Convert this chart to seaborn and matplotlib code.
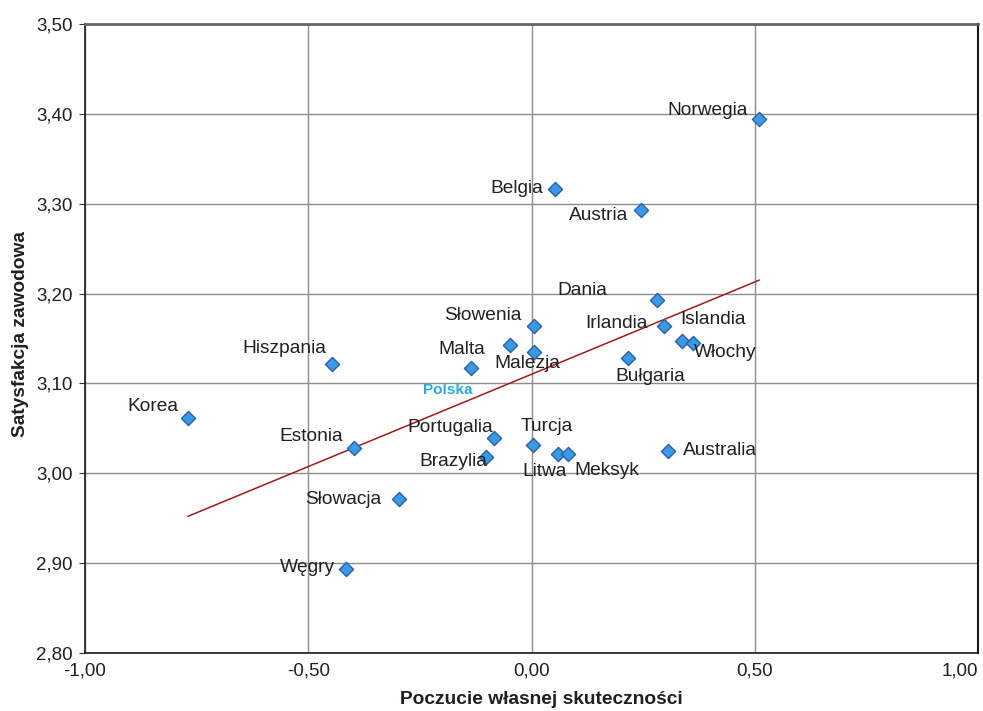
import numpy as np
import pandas as pd
import seaborn as sns
from matplotlib import pyplot as plt
from matplotlib.ticker import FuncFormatter, MultipleLocator

# values
countries = ["Norwegia", "Belgia", "Austria", "Dania", "Słowenia", "Irlandia", "Islandia", "Włochy",
             "", "Malezja", "Malta", "Bułgaria", "Hiszpania", "Korea", "Estonia", "Portugalia",
             "Turcja", "Brazylia", "Litwa", "Meksyk", "Australia", "Słowacja", "Węgry"]
efficacy = [0.510, 0.053, 0.245, 0.281, 0.006, 0.297, 0.337, 0.362,
            -0.048, 0.006, -0.135, 0.216, -0.447, -0.769, -0.398, -0.084,
            0.003, -0.102, 0.059, 0.082, 0.306, -0.297, -0.416]
satisfaction = [3.394, 3.316, 3.293, 3.193, 3.164, 3.164, 3.147, 3.145,
                3.143, 3.135, 3.117, 3.128, 3.122, 3.062, 3.028, 3.039,
                3.032, 3.018, 3.021, 3.021, 3.025, 2.971, 2.894]

trend_x = [-0.77, 0.51]
trend_y = [2.952, 3.215]

poland_label = "Polska"
poland_x, poland_y = -0.187, 3.093

x_ticks = [-1.0, -0.5, 0.0, 0.5, 1.0]

# label offsets in pixels (layout only)
label_offsets = {
    "Norwegia": (-52, 9), "Belgia": (-38, 1), "Austria": (-42, -5), "Dania": (-75, 9),
    "Słowenia": (-51, 10), "Irlandia": (-48, 2), "Islandia": (31, 22), "Włochy": (32, -10),
    "Malezja": (-7, -12), "Malta": (-10, 19), "Bułgaria": (22, -18), "Hiszpania": (-48, 15),
    "Korea": (-35, 11), "Estonia": (-43, 12), "Portugalia": (-44, 11), "Turcja": (14, 18),
    "Brazylia": (-33, -4), "Litwa": (-13, -17), "Meksyk": (39, -16), "Australia": (52, 0),
    "Słowacja": (-56, 0), "Węgry": (-38, 1),
}

data = pd.DataFrame({"Kraj": countries, "x": efficacy, "y": satisfaction})

sns.set_style("white")
plt.rcParams["font.family"] = ["Liberation Sans", "DejaVu Sans"]

fig = plt.figure(figsize=(9.83, 7.11), dpi=100)
ax = fig.add_axes([0.0865, 0.0816, 0.9085, 0.8846])

sns.lineplot(x=trend_x, y=trend_y, ax=ax, color="#9b1c1c", linewidth=1.1, zorder=2)
sns.scatterplot(data=data, x="x", y="y", ax=ax, marker="D", s=52, color="#3a9ae6",
                edgecolor="#2d5fa6", linewidth=1.0, zorder=3)

for name, px, py in zip(countries, efficacy, satisfaction):
    if not name:
        continue
    dx, dy = label_offsets[name]
    ax.annotate(name, (px, py), xytext=(dx, dy), textcoords="offset pixels",
                ha="center", va="center", fontsize=13.8, color="#231f20", zorder=4)

ax.text(poland_x, poland_y, poland_label, ha="center", va="center", fontsize=11,
        fontweight="bold", color="#29a9e1", zorder=4)

ax.set_xlim(-1, 1)
ax.set_ylim(2.8, 3.5)
ax.set_xticks(x_ticks)
ax.yaxis.set_major_locator(MultipleLocator(0.1))
fmt = FuncFormatter(lambda v, pos: f"{v:.2f}".replace(".", ","))
ax.xaxis.set_major_formatter(fmt)
ax.yaxis.set_major_formatter(fmt)

ax.grid(True, color="#8c8c8c", linewidth=1.0)
ax.set_axisbelow(True)
ax.tick_params(axis="y", length=4, width=0.8, color="#333333", labelsize=13.5, pad=5,
               labelcolor="#231f20", left=True)
ax.tick_params(axis="x", length=0, labelsize=13.5, pad=7, labelcolor="#231f20")

# the last x tick label sits flush with the right edge, as in the reference
fig.canvas.draw()
ax.get_xticklabels()[-1].set_horizontalalignment("right")

for side in ["left", "bottom"]:
    ax.spines[side].set_color("#1a1a1a")
    ax.spines[side].set_linewidth(1.2)
ax.spines["right"].set_color("#1a1a1a")
ax.spines["right"].set_linewidth(1.5)
ax.spines["top"].set_color("#666666")
ax.spines["top"].set_linewidth(2.0)

ax.set_xlabel("Poczucie własnej skuteczności", fontsize=13.8, fontweight="bold",
              color="#231f20")
ax.set_ylabel("Satysfakcja zawodowa", fontsize=13.8, fontweight="bold",
              color="#231f20")
ax.xaxis.set_label_coords(0.5105, -0.060)
ax.yaxis.set_label_coords(-0.063, 0.5075)

fig.savefig("out.png", dpi=100)
